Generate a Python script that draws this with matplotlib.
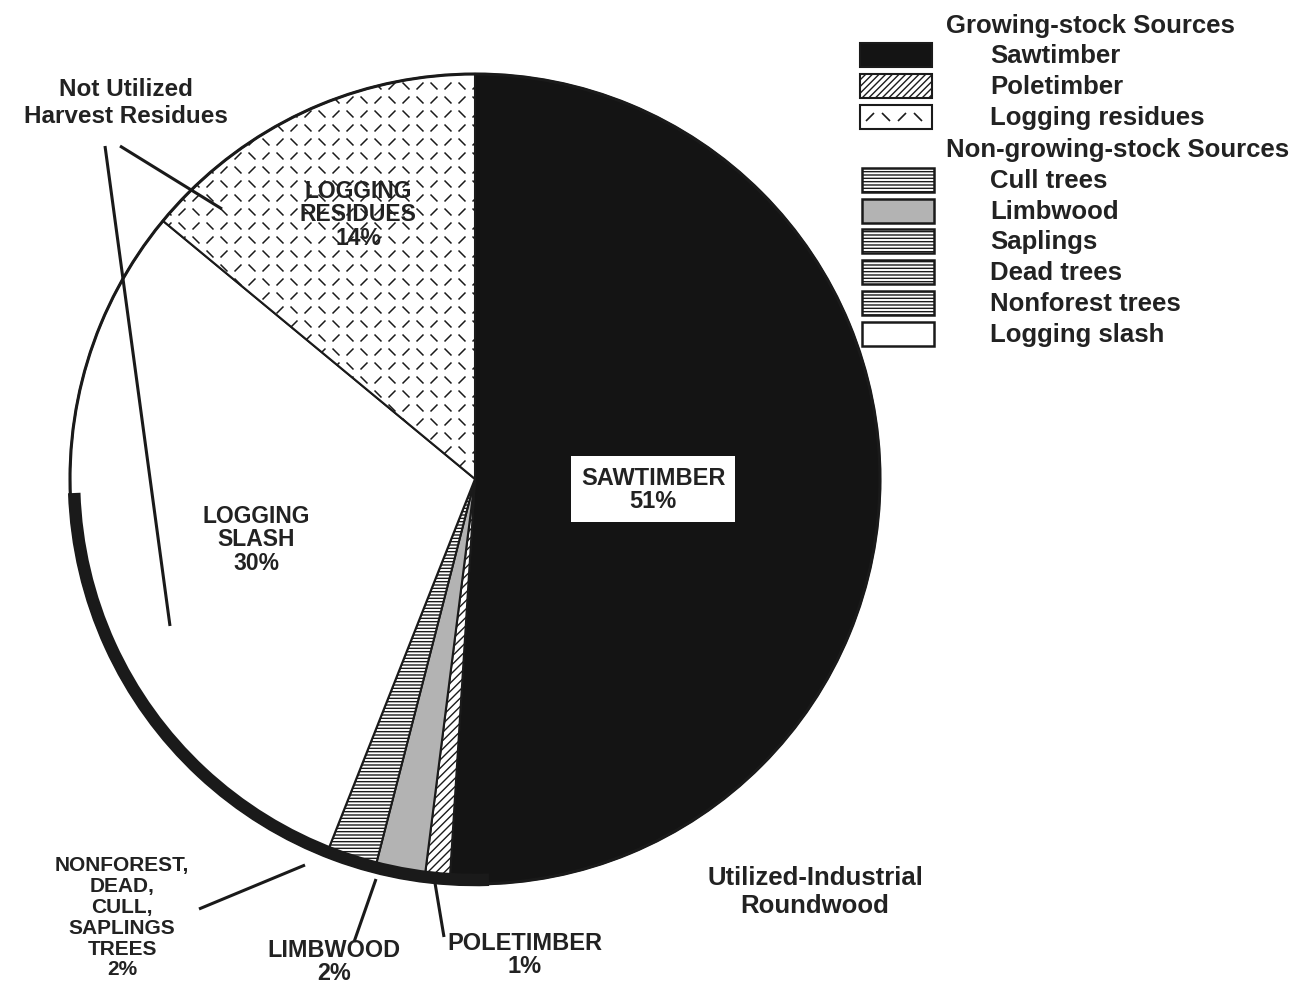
import numpy as np
import matplotlib.pyplot as plt
from matplotlib.patches import Rectangle, Arc
from matplotlib.collections import LineCollection

plt.rcParams['font.family'] = ['Liberation Sans', 'DejaVu Sans']

# data (clockwise from 12 o'clock)
sources = ['Sawtimber', 'Poletimber', 'Limbwood', 'Nonforest, dead, cull, saplings',
           'Logging slash', 'Logging residues']
shares = [51, 1, 2, 2, 30, 14]
slice_labels = ['SAWTIMBER\n51%', 'POLETIMBER\n1%', 'LIMBWOOD\n2%',
                'NONFOREST,\nDEAD,\nCULL,\nSAPLINGS\nTREES\n2%',
                'LOGGING\nSLASH\n30%', 'LOGGING\nRESIDUES\n14%']

legend_heads = ['Growing-stock Sources', 'Non-growing-stock Sources']
legend_growing = ['Sawtimber', 'Poletimber', 'Logging residues']
legend_nongrowing = ['Cull trees', 'Limbwood', 'Saplings', 'Dead trees',
                     'Nonforest trees', 'Logging slash']

W, H = 1295, 987
fig = plt.figure(figsize=(W / 100, H / 100), dpi=100)
ax = fig.add_axes([0, 0, 1, 1])

def Y(y):
    # pixel row from top -> data y
    return H - y

cx, cy, R = 475, Y(480), 405
ink = '#1a1a1a'

faces = ['#141414', 'white', '#b3b3b3', 'white', 'white', 'white']
hatches = [None, '////', None, '-----', None, None]
wedges, _ = ax.pie(shares, startangle=90, counterclock=False, center=(cx, cy),
                   radius=R, colors=faces,
                   wedgeprops=dict(edgecolor=ink, linewidth=1.5))
for w, h in zip(wedges, hatches):
    if h:
        w.set_hatch(h)

# dashed texture for logging residues
res = wedges[5]
segs = []
s = 14
for i, gx in enumerate(np.arange(cx - R, cx + R, s)):
    for j, gy in enumerate(np.arange(cy - R, cy + R, s)):
        d = 3.5
        if (i + j) % 2 == 0:
            segs.append([(gx - d, gy - d), (gx + d, gy + d)])
        else:
            segs.append([(gx - d, gy + d), (gx + d, gy - d)])
lc = LineCollection(segs, colors=ink, linewidths=1.1)
ax.add_collection(lc)
lc.set_clip_path(res)

# outer rim, thick along the utilized side
ax.add_patch(Arc((cx, cy), 2 * R, 2 * R, theta1=0, theta2=360, color=ink, lw=2.2))
ax.add_patch(Arc((cx, cy), 2 * R - 8, 2 * R - 8, theta1=182, theta2=272, color=ink, lw=9))

# slice labels
lab_kw = dict(ha='center', va='center', fontweight='bold', color='#222222')
ax.text(653, Y(490), slice_labels[0], fontsize=17, linespacing=1.0,
        bbox=dict(facecolor='white', edgecolor='none', pad=7), **lab_kw)
ax.text(358, Y(215), slice_labels[5], fontsize=16.5, linespacing=1.02, **lab_kw)
ax.text(256, Y(540), slice_labels[4], fontsize=16.5, linespacing=1.02, **lab_kw)
ax.text(122, Y(918), slice_labels[3], fontsize=15, linespacing=1.12, **lab_kw)
ax.text(334, Y(962), slice_labels[2], fontsize=16.8, linespacing=1.02, **lab_kw)
ax.text(525, Y(955), slice_labels[1], fontsize=17, linespacing=1.02, **lab_kw)

side_kw = dict(ha='center', va='center', fontweight='bold',
               color='#222222', linespacing=1.25)
ax.text(126, Y(103), 'Not Utilized\nHarvest Residues', fontsize=17.5, **side_kw)
ax.text(815, Y(892), 'Utilized-Industrial\nRoundwood', fontsize=18.5, **side_kw)

# leader lines
leaders = [((120, 147), (222, 210)), ((105, 147), (170, 627)),
           ((199, 910), (305, 866)), ((354, 943), (376, 880)),
           ((444, 938), (434, 878))]
for (x0, y0), (x1, y1) in leaders:
    ax.plot([x0, x1], [Y(y0), Y(y1)], color=ink, lw=2.2, solid_capstyle='butt')

# legend
leg_kw = dict(ha='left', va='center', fontsize=18.5, fontweight='bold', color='#222222')
ax.text(946, Y(26), legend_heads[0], **leg_kw)
ax.text(946, Y(150), legend_heads[1], **leg_kw)
rows_g = [56, 87, 118]
rows_n = [181, 212, 242, 273, 304, 335]
g_style = [dict(facecolor='#141414', hatch=None), dict(facecolor='white', hatch='/////'),
           dict(facecolor='white', hatch=None)]
for name, yy, st in zip(legend_growing, rows_g, g_style):
    r = Rectangle((860, Y(yy) - 12), 72, 24, edgecolor=ink, lw=1.5, **st)
    ax.add_patch(r)
    ax.text(990, Y(yy), name, **leg_kw)
    if name == 'Logging residues':
        dsegs = []
        for k, gx in enumerate(np.arange(870, 932, 16)):
            d = 4
            if k % 2 == 0:
                dsegs.append([(gx - d, Y(yy) - d), (gx + d, Y(yy) + d)])
            else:
                dsegs.append([(gx - d, Y(yy) + d), (gx + d, Y(yy) - d)])
        ax.add_collection(LineCollection(dsegs, colors=ink, linewidths=1.2))
n_face = ['white', '#b3b3b3', 'white', 'white', 'white', 'white']
n_hatch = ['-----', None, '-----', '-----', '-----', None]
for name, yy, fc, hh in zip(legend_nongrowing, rows_n, n_face, n_hatch):
    ax.add_patch(Rectangle((862, Y(yy) - 12), 72, 24, facecolor=fc, hatch=hh,
                           edgecolor=ink, lw=1.8))
    ax.text(990, Y(yy), name, **leg_kw)

ax.set_xlim(0, W)
ax.set_ylim(0, H)
ax.set_aspect('equal')
ax.axis('off')

plt.savefig('out.png', dpi=100)
